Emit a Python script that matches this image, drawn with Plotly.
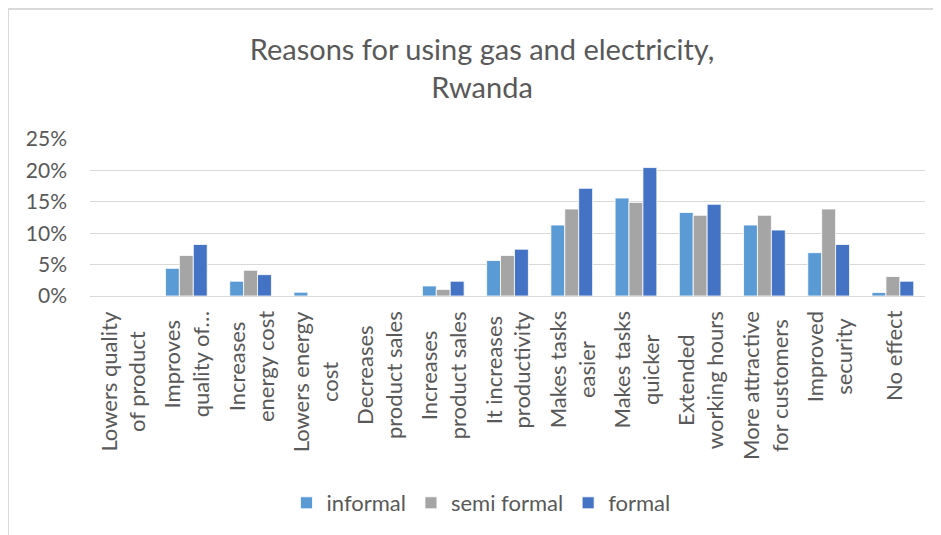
import plotly.graph_objects as go

# categories (Excel axis labels, line break where the chart wraps them)
categories = [
    "Lowers quality<br>of product",
    "Improves<br>quality of…",
    "Increases<br>energy cost",
    "Lowers energy<br>cost",
    "Decreases<br>product sales",
    "Increases<br>product sales",
    "It increases<br>productivity",
    "Makes tasks<br>easier",
    "Makes tasks<br>quicker",
    "Extended<br>working hours",
    "More attractive<br>for customers",
    "Improved<br>security",
    "No effect",
]

# shares in percent
informal = [0, 4.4, 2.35, 0.6, 0, 1.6, 5.65, 11.3, 15.6, 13.3, 11.3, 6.9, 0.55]
semi_formal = [0, 6.45, 4.1, 0, 0, 1.05, 6.45, 13.85, 14.9, 12.85, 12.85, 13.85, 3.1]
formal = [0, 8.2, 3.4, 0, 0, 2.35, 7.45, 17.15, 20.45, 14.6, 10.5, 8.2, 2.35]

series = [("informal", informal, "#5B9BD5"),
          ("semi formal", semi_formal, "#A5A5A5"),
          ("formal", formal, "#4472C4")]

# page is 941x535 but the browser body keeps an 8px margin
OFF = 8
W, H = 941 - OFF, 535 - OFF
L, R, T, B = 90 - OFF, 16, 139 - OFF, 239
txt = "#595959"
font = "Lato, Calibri, sans-serif"

fig = go.Figure()
for name, vals, col in series:
    fig.add_trace(go.Bar(x=categories, y=[v / 100 for v in vals], name=name,
                         marker=dict(color=col, line=dict(color="white", width=0.8))))

# rotated axis labels, lines centred like in Excel
for c in categories:
    fig.add_annotation(x=c, y=0, xref="x", yref="y", text=c, textangle=-90,
                       showarrow=False, yanchor="top", xanchor="center", align="center",
                       yshift=-13, font=dict(size=22, color=txt, family=font))

# chart area border (Excel frame)
pw, ph = W - L - R, H - T - B
x0 = (0 - L) / pw
x1 = (W + 5 - L) / pw
y1 = (H - B - 1) / ph
y0 = -(B + 5) / ph
fig.add_shape(type="line", xref="paper", yref="paper", x0=x0, x1=x0, y0=y0, y1=y1,
              line=dict(color="#D9D9D9", width=2))
fig.add_shape(type="line", xref="paper", yref="paper", x0=x0, x1=x1, y0=y1, y1=y1,
              line=dict(color="#D9D9D9", width=2))

fig.update_layout(
    width=W, height=H,
    margin=dict(l=L, r=R, t=T, b=B),
    plot_bgcolor="white", paper_bgcolor="white",
    barmode="group", bargap=0.35, bargroupgap=0,
    font=dict(family=font, color=txt, size=20),
    title=dict(text="Reasons for using gas and electricity,<br>Rwanda",
               x=(482 - OFF) / W, xanchor="center", xref="container",
               y=1 - (60 - OFF) / H, yanchor="middle", yref="container",
               font=dict(size=29, color=txt, family=font)),
    legend=dict(orientation="h", x=(481 - OFF) / W, xanchor="center", xref="container",
                y=1 - (503 - OFF) / H, yanchor="middle", yref="container",
                font=dict(size=22, color=txt), itemwidth=30, traceorder="normal"),
)
fig.update_xaxes(showticklabels=False, showgrid=False, showline=True,
                 linecolor="#D9D9D9", linewidth=1, ticks="")
fig.update_yaxes(range=[0, 0.25], dtick=0.05, tickformat=".0%", showgrid=True,
                 gridcolor="#D9D9D9", gridwidth=1, zeroline=False, showline=False,
                 ticklabelstandoff=22, tickfont=dict(size=21, color=txt))

fig.write_html("out.html")
